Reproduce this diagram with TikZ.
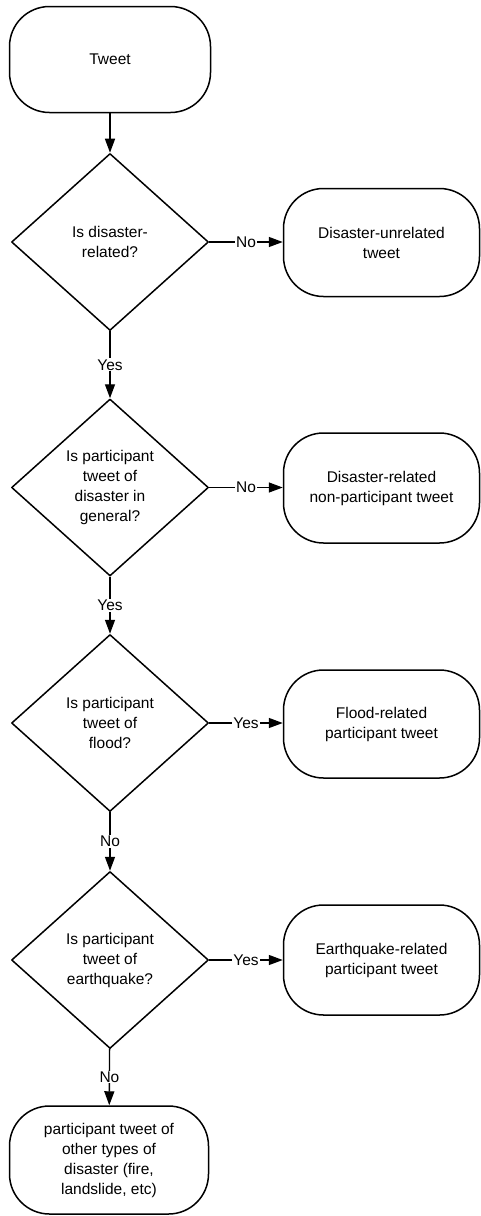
\documentclass[tikz,border=0pt]{standalone}
\usepackage{fontspec}
\setmainfont{Liberation Sans}
\usetikzlibrary{shapes.geometric,arrows.meta}
\begin{document}
\begin{tikzpicture}[x=1pt,y=-1pt,
  every node/.style={font=\fontsize{15.5}{20}\selectfont},
  term/.style={draw,line width=1.5pt,rectangle,rounded corners=40pt,
    minimum width=#1,minimum height=106pt,align=center,inner sep=0pt},
  term/.default=200pt,
  decision/.style={draw,line width=1.5pt,diamond,aspect=1.12,
    minimum width=197pt,minimum height=177pt,align=center,inner sep=0pt,
    line join=round},
  conn/.style={line width=1.4pt,-{Triangle[length=14pt,width=10pt]}},
  lbl/.style={fill=white,inner sep=1pt,font=\fontsize{15.5}{18}\selectfont}
]
\useasboundingbox (0,0) rectangle (481,1216);
\node[term=201pt] (tweet) at (110,59.5) {Tweet};
\node[decision] (d1) at (110,242) {Is disaster-\\related?};
\node[decision] (d2) at (110,487.5) {Is participant\\tweet of\\disaster in\\general?};
\node[decision] (d3) at (110,723) {Is participant\\tweet of\\flood?};
\node[decision] (d4) at (110,960) {Is participant\\tweet of\\earthquake?};
\node[term=196pt,minimum height=108pt] (r1) at (381.5,242.5) {Disaster-unrelated\\tweet};
\node[term=196pt,minimum height=110pt] (r2) at (381.5,488) {Disaster-related\\non-participant tweet};
\node[term=196pt,minimum height=108pt] (r3) at (381.5,724) {Flood-related\\participant tweet};
\node[term=196pt,minimum height=110pt] (r4) at (381.5,960) {Earthquake-related\\participant tweet};
\node[term=199pt,minimum height=108pt] (last) at (109,1160) {participant tweet of\\other types of\\disaster (fire,\\landslide, etc)};
\draw[conn] (tweet) -- (d1);
\draw[conn] (d1) -- node[lbl]{Yes} (d2);
\draw[conn] (d2) -- node[lbl]{Yes} (d3);
\draw[conn] (d3) -- node[lbl]{No} (d4);
\draw[conn] (d4) -- node[lbl]{No} (last);
\draw[conn] (d1.east) -- node[lbl]{No} (r1.west |- d1.east);
\draw[conn] (d2.east) -- node[lbl]{No} (r2.west |- d2.east);
\draw[conn] (d3.east) -- node[lbl]{Yes} (r3.west |- d3.east);
\draw[conn] (d4.east) -- node[lbl]{Yes} (r4.west |- d4.east);
\end{tikzpicture}
\end{document}
